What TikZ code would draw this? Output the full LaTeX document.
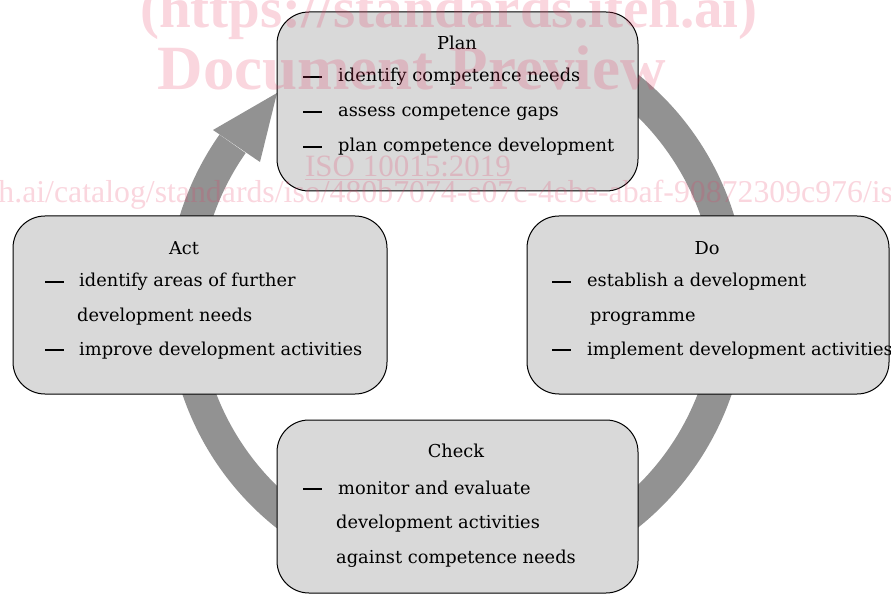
\documentclass[tikz,border=0pt]{standalone}
\usepackage{fontspec}
\setmainfont{DejaVu Serif}
\newfontfamily\markfont{Liberation Serif}
\definecolor{boxgray}{RGB}{217,217,217}
\definecolor{ringgray}{RGB}{146,146,146}
\definecolor{markpink}{RGB}{230,60,100}
\begin{document}
\begin{tikzpicture}[x=1pt,y=1pt,font=\fontsize{17.8}{22}\selectfont, line join=round, line cap=round,
	box/.style={draw=black, line width=1pt, fill=boxgray, rounded corners=32pt, inner sep=0pt, outer sep=0pt},
	txt/.style={anchor=base west, inner sep=0pt},
	ttl/.style={anchor=base, inner sep=0pt},
	wmark/.style={anchor=base, inner sep=0pt, text=markpink, text opacity=0.21}]
				\useasboundingbox (0,0) rectangle (891,595);
				\clip (0,0) rectangle (891,595);
				\path
				(457,294) coordinate (O)
				(213,465) coordinate (H1)
				(277,502) coordinate (T)
				(260,433) coordinate (H2)
				;
				% ring and arrow head
				\fill[ringgray] ([shift={(145:290)}]O) arc[start angle=145, end angle=485, radius=290]
				-- ([shift={(485:258)}]O) arc[start angle=485, end angle=145, radius=258] -- cycle;
				\fill[ringgray] (H1)--(T)--(H2)--cycle;
				% boxes
				\node[box, minimum width=361pt, minimum height=179pt] (plan) at (457.5,493.5) {};
				\node[box, minimum width=374pt, minimum height=178pt] (act) at (200,290) {};
				\node[box, minimum width=362pt, minimum height=178pt] (do) at (708,290) {};
				\node[box, minimum width=361pt, minimum height=173pt] (check) at (457.5,88.5) {};
				\node[ttl] (plantitle) at (457,545) {Plan};
				\node[ttl] (acttitle) at (184,340) {Act};
				\node[ttl] (dotitle) at (707,340) {Do};
				\node[ttl] (checktitle) at (456,138) {Check};
				\foreach \x/\y [count=\i] in {303/513,303/478,303/443,45/308,45/240,552/308,552/240,303/101}
				\node[txt] (dash\i) at (\x,\y) {\rule[4.3pt]{19pt}{1.9pt}};
				\foreach \x/\y/\t [count=\i] in {338/513/identify competence needs,338/478/assess competence gaps,
					338/443/plan competence development,79/308/identify areas of further,77/273/development needs,
					79/240/improve development activities,587/308/establish a development,590/273/programme,
					587/240/implement development activities,338/101/monitor and evaluate,
					336/67/development activities,336/32/against competence needs}
				\node[txt] (line\i) at (\x,\y) {\t};
				% watermark
				\node[wmark, font=\markfont\fontsize{57}{60}\selectfont\bfseries] (wm1) at (449,567) {(https://standards.iteh.ai)};
				\node[wmark, font=\markfont\fontsize{63}{66}\selectfont\bfseries] (wm2) at (411.5,505) {Document Preview};
				\node[wmark, font=\markfont\fontsize{31}{33}\selectfont] (wm3) at (408,418) {\underline{ISO 10015:2019}};
				\node[wmark, anchor=base west, font=\markfont\fontsize{31.8}{33}\selectfont] (wm4) at (-250,392)
				{https://standards.iteh.ai/catalog/standards/iso/480b7074-e07c-4ebe-abaf-90872309c976/iso-10015-2019};
			\end{tikzpicture}
\end{document}
